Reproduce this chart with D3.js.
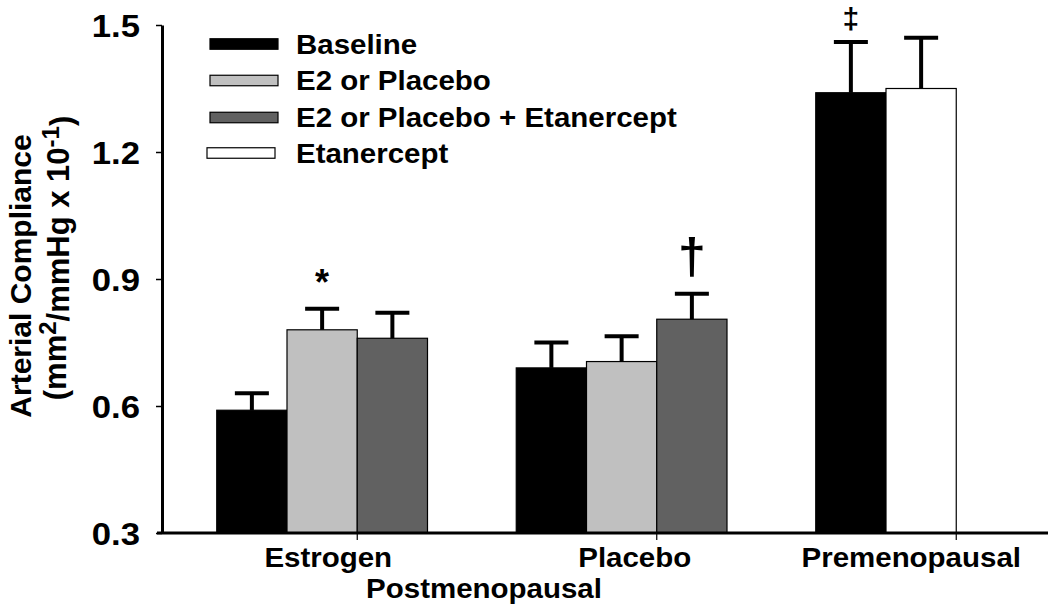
<!DOCTYPE html>
<html><head><meta charset="utf-8">
<script src="https://cdn.jsdelivr.net/npm/d3@7"></script>
<style>
body{margin:0;background:#fff}
svg text{font-family:"Liberation Sans",Arial,Helvetica,sans-serif;font-weight:bold;fill:#000}
</style>
</head><body>
<svg id="chart" width="1050" height="608"></svg>
<script>
// ---- data ----
const groups = ["Estrogen", "Placebo", "Premenopausal"];
const seriesNames = ["Baseline", "E2 or Placebo", "E2 or Placebo + Etanercept", "Etanercept"];
const seriesColors = ["#000000", "#c0c0c0", "#616161", "#ffffff"];

const estrogenSeries = [0, 1, 2];
const estrogenMeans  = [0.59, 0.78, 0.76];
const estrogenErrors = [0.04, 0.05, 0.06];

const placeboSeries = [0, 1, 2];
const placeboMeans  = [0.69, 0.705, 0.805];
const placeboErrors = [0.06, 0.06, 0.06];

const premenoSeries = [0, 3];
const premenoMeans  = [1.34, 1.35];
const premenoErrors = [0.12, 0.12];

const yTicks = [0.3, 0.6, 0.9, 1.2, 1.5];
const groupLabelSuper = "Postmenopausal";

// significance markers: group, slot, symbol
const markerGroups  = ["Estrogen", "Placebo", "Premenopausal"];
const markerSlots   = [1, 2, 0];
const markerSymbols = ["*", "\u2020", "\u2021"];

// ---- build table ----
const groupData = [
  {g: groups[0], s: estrogenSeries, m: estrogenMeans, e: estrogenErrors},
  {g: groups[1], s: placeboSeries,  m: placeboMeans,  e: placeboErrors},
  {g: groups[2], s: premenoSeries,  m: premenoMeans,  e: premenoErrors}
];
const bars = [];
groupData.forEach(gd => gd.s.forEach((s, i) => bars.push({group: gd.g, slot: i, series: s, mean: gd.m[i], err: gd.e[i]})));

// ---- scales ----
const svg = d3.select("#chart");
const y = d3.scaleLinear().domain([0.3, 1.5]).range([533, 25]);
const x = d3.scaleBand().domain(groups).range([207.5, 207.5 + 3 * 299.5]).padding(0);
const slotsWidth = 281;
const slot = d3.scaleBand().domain([0, 1, 2, 3]).range([0, slotsWidth]).padding(0);
const barX = d => x(d.group) + (x.bandwidth() - slotsWidth) / 2 + slot(d.slot);
const barCx = d => barX(d) + slot.bandwidth() / 2;

// ---- bars ----
svg.append("g").selectAll("rect").data(bars).join("rect")
  .attr("x", barX)
  .attr("y", d => y(d.mean))
  .attr("width", slot.bandwidth())
  .attr("height", d => y(0.3) - y(d.mean))
  .attr("fill", d => seriesColors[d.series])
  .attr("stroke", "#000")
  .attr("stroke-width", 1.2);

// ---- error bars ----
const eb = svg.append("g").attr("stroke", "#000");
eb.selectAll("line.stem").data(bars).join("line").attr("class", "stem")
  .attr("x1", barCx).attr("x2", barCx)
  .attr("y1", d => y(d.mean)).attr("y2", d => y(d.mean + d.err))
  .attr("stroke-width", 4);
eb.selectAll("line.cap").data(bars).join("line").attr("class", "cap")
  .attr("x1", d => barCx(d) - 17).attr("x2", d => barCx(d) + 17)
  .attr("y1", d => y(d.mean + d.err)).attr("y2", d => y(d.mean + d.err))
  .attr("stroke-width", 4);

// ---- y axis ----
const yAxis = svg.append("g").attr("transform", "translate(162,0)")
  .call(d3.axisLeft(y).tickValues(yTicks).tickFormat(d3.format(".1f")).tickSize(6).tickSizeOuter(0).tickPadding(16));
yAxis.select(".domain").attr("stroke-width", 3);
yAxis.selectAll(".tick line").attr("stroke-width", 1.5);
yAxis.selectAll(".tick text")
  .attr("x", null)
  .attr("dy", null)
  .attr("transform", "translate(-22,11) scale(1.12,1)")
  .style("font-size", "31px")
  .style("font-family", '"Liberation Sans",Arial,sans-serif').style("font-weight", "bold");

// ---- x axis ----
const xAxis = svg.append("g").attr("transform", "translate(0,533)")
  .call(d3.axisBottom(x).tickSize(7).tickFormat(""));
xAxis.select(".domain").remove();
xAxis.selectAll(".tick line").attr("stroke-width", 1.2);
svg.append("line").attr("x1", 157).attr("x2", 1048).attr("y1", 533).attr("y2", 533)
  .attr("stroke", "#000").attr("stroke-width", 3);

const labelDx = [-29, -22, -45];
const hScale = 1.1;
groups.forEach((g, i) => {
  svg.append("text")
    .attr("transform", `translate(${x(g) + x.bandwidth() / 2 + labelDx[i]},567) scale(${hScale},1)`)
    .attr("text-anchor", "middle").style("font-size", "26.8px").text(g);
});
svg.append("text")
  .attr("transform", `translate(484,598) scale(${hScale},1)`)
  .attr("text-anchor", "middle").style("font-size", "26.8px").text(groupLabelSuper);

// ---- y title ----
const yt = svg.append("g");
yt.append("text").attr("transform", "translate(31,276) rotate(-90)")
  .attr("text-anchor", "middle").style("font-size", "30px").text("Arterial Compliance");
const t2 = yt.append("text").attr("transform", "translate(66,258) rotate(-90)")
  .attr("text-anchor", "middle").style("font-size", "31px");
t2.append("tspan").text("(mm");
t2.append("tspan").attr("dy", "-0.42em").style("font-size", "24px").text("2");
t2.append("tspan").attr("dy", "0.42em").text("/mmHg x 10");
t2.append("tspan").attr("dy", "-0.42em").style("font-size", "24px").text("-1");
t2.append("tspan").attr("dy", "0.42em").text(")");

// ---- legend ----
const legY = [44, 80.5, 117.5, 153];
const leg = svg.append("g");
seriesNames.forEach((name, i) => {
  leg.append("rect").attr("x", i === 3 ? 207 : 210).attr("y", legY[i] - 5.25)
    .attr("width", 68).attr("height", 10.5)
    .attr("fill", seriesColors[i]).attr("stroke", "#000").attr("stroke-width", 1.2);
  leg.append("text").attr("transform", `translate(296,${legY[i] + 9.5}) scale(1.1,1)`)
    .style("font-size", "26.8px").text(name);
});

// ---- significance markers ----
const markerFont = {"*": 36, "\u2020": 50, "\u2021": 30};
const markerGap  = {"*": 14, "\u2020": 21, "\u2021": 13};
markerSymbols.forEach((sym, i) => {
  const b = bars.find(d => d.group === markerGroups[i] && d.slot === markerSlots[i]);
  const top = y(b.mean + b.err);
  svg.append("text")
    .attr("x", barCx(b))
    .attr("y", top - markerGap[sym])
    .attr("text-anchor", "middle")
    .style("font-size", markerFont[sym] + "px")
    .text(sym);
});
</script>
</body></html>
